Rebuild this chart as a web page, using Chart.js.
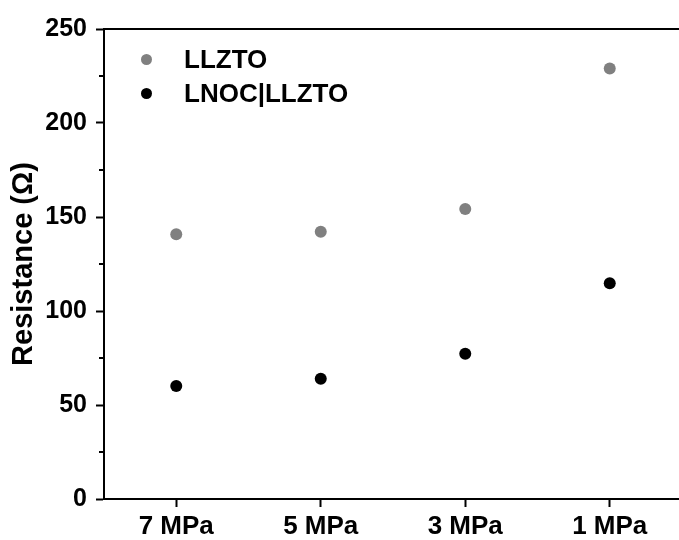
<!DOCTYPE html>
<html>
<head>
<meta charset="utf-8">
<script src="https://cdn.jsdelivr.net/npm/chart.js@4.4.1/dist/chart.umd.min.js"></script>
<style>
  html, body { margin: 0; padding: 0; background: #fff; overflow: hidden; }
  #wrap { position: relative; width: 688px; height: 540px; }
  #legend {
    position: absolute; left: 141px; top: 42px;
    font: bold 26px "Liberation Sans", Arial, sans-serif; color: #000;
  }
  .item { display: flex; align-items: center; height: 34px; }
  .dot { width: 11px; height: 11px; border-radius: 50%; margin-right: 32px; }
</style>
</head>
<body>
<div id="wrap">
  <canvas id="resistance-chart" width="688" height="540"></canvas>
  <div id="legend"></div>
</div>
<script>
const pressures = ["7 MPa", "5 MPa", "3 MPa", "1 MPa"];
const llztoValues = [140.8, 142.2, 154.3, 229.0];
const lnocValues = [60.1, 64.0, 77.3, 114.7];
const yTicks = [0, 50, 100, 150, 200, 250];

const seriesNames = ["LLZTO", "LNOC|LLZTO"];
const seriesColors = ["#808080", "#000000"];

const fontFamily = "'Liberation Sans', Arial, sans-serif";

// short minor ticks between the labelled values on the y axis
const minorTicks = {
  id: "minorTicks",
  afterDraw(chart) {
    const y = chart.scales.y;
    const c = chart.ctx;
    c.save();
    c.strokeStyle = "#000";
    c.lineWidth = 2;
    for (let i = 0; i < yTicks.length - 1; i++) {
      const mid = (yTicks[i] + yTicks[i + 1]) / 2;
      const py = Math.round(y.getPixelForValue(mid));
      c.beginPath();
      c.moveTo(chart.chartArea.left - 5, py);
      c.lineTo(chart.chartArea.left, py);
      c.stroke();
    }
    // top frame line
    c.beginPath();
    c.moveTo(chart.chartArea.left, chart.chartArea.top);
    c.lineTo(chart.chartArea.right, chart.chartArea.top);
    c.stroke();
    c.restore();
  },
};

function makeDataset(i, values) {
  return {
    label: seriesNames[i],
    data: values,
    showLine: false,
    pointRadius: 6,
    pointHoverRadius: 6,
    pointBorderWidth: 0,
    pointBackgroundColor: seriesColors[i],
    borderColor: seriesColors[i],
    backgroundColor: seriesColors[i],
  };
}

const chart = new Chart(document.getElementById("resistance-chart"), {
  type: "line",
  data: {
    labels: pressures,
    datasets: [makeDataset(0, llztoValues), makeDataset(1, lnocValues)],
  },
  options: {
    responsive: false,
    animation: false,
    layout: { padding: { top: 29, right: 0, left: 0, bottom: 0 } },
    plugins: { legend: { display: false }, tooltip: { enabled: false } },
    scales: {
      x: {
        type: "category",
        offset: true,
        afterFit: (scale) => { scale.height = 41; },
        grid: { drawOnChartArea: false, tickLength: 8, tickWidth: 2, tickColor: "#000" },
        border: { color: "#000", width: 2 },
        ticks: { color: "#000", font: { family: fontFamily, size: 26, weight: "bold" }, padding: 4, maxRotation: 0 },
      },
      y: {
        min: yTicks[0],
        max: yTicks[yTicks.length - 1],
        afterFit: (scale) => { scale.width = 104; },
        afterBuildTicks: (scale) => { scale.ticks = yTicks.map((v) => ({ value: v })); },
        grid: { drawOnChartArea: false, tickLength: 8, tickWidth: 2, tickColor: "#000" },
        border: { color: "#000", width: 2 },
        ticks: { color: "#000", font: { family: fontFamily, size: 25, weight: "bold" }, padding: 9 },
        title: {
          display: true,
          text: "Resistance (Ω)",
          color: "#000",
          font: { family: fontFamily, size: 29, weight: "bold" },
          padding: { top: 7, bottom: 0 },
        },
      },
    },
  },
  plugins: [minorTicks],
});

// legend drawn inside the plot, top-left
const legendEl = document.getElementById("legend");
chart.data.datasets.forEach((ds) => {
  const item = document.createElement("div");
  item.className = "item";
  item.innerHTML = `<span class="dot" style="background:${ds.pointBackgroundColor}"></span><span>${ds.label}</span>`;
  legendEl.appendChild(item);
});
</script>
</body>
</html>
